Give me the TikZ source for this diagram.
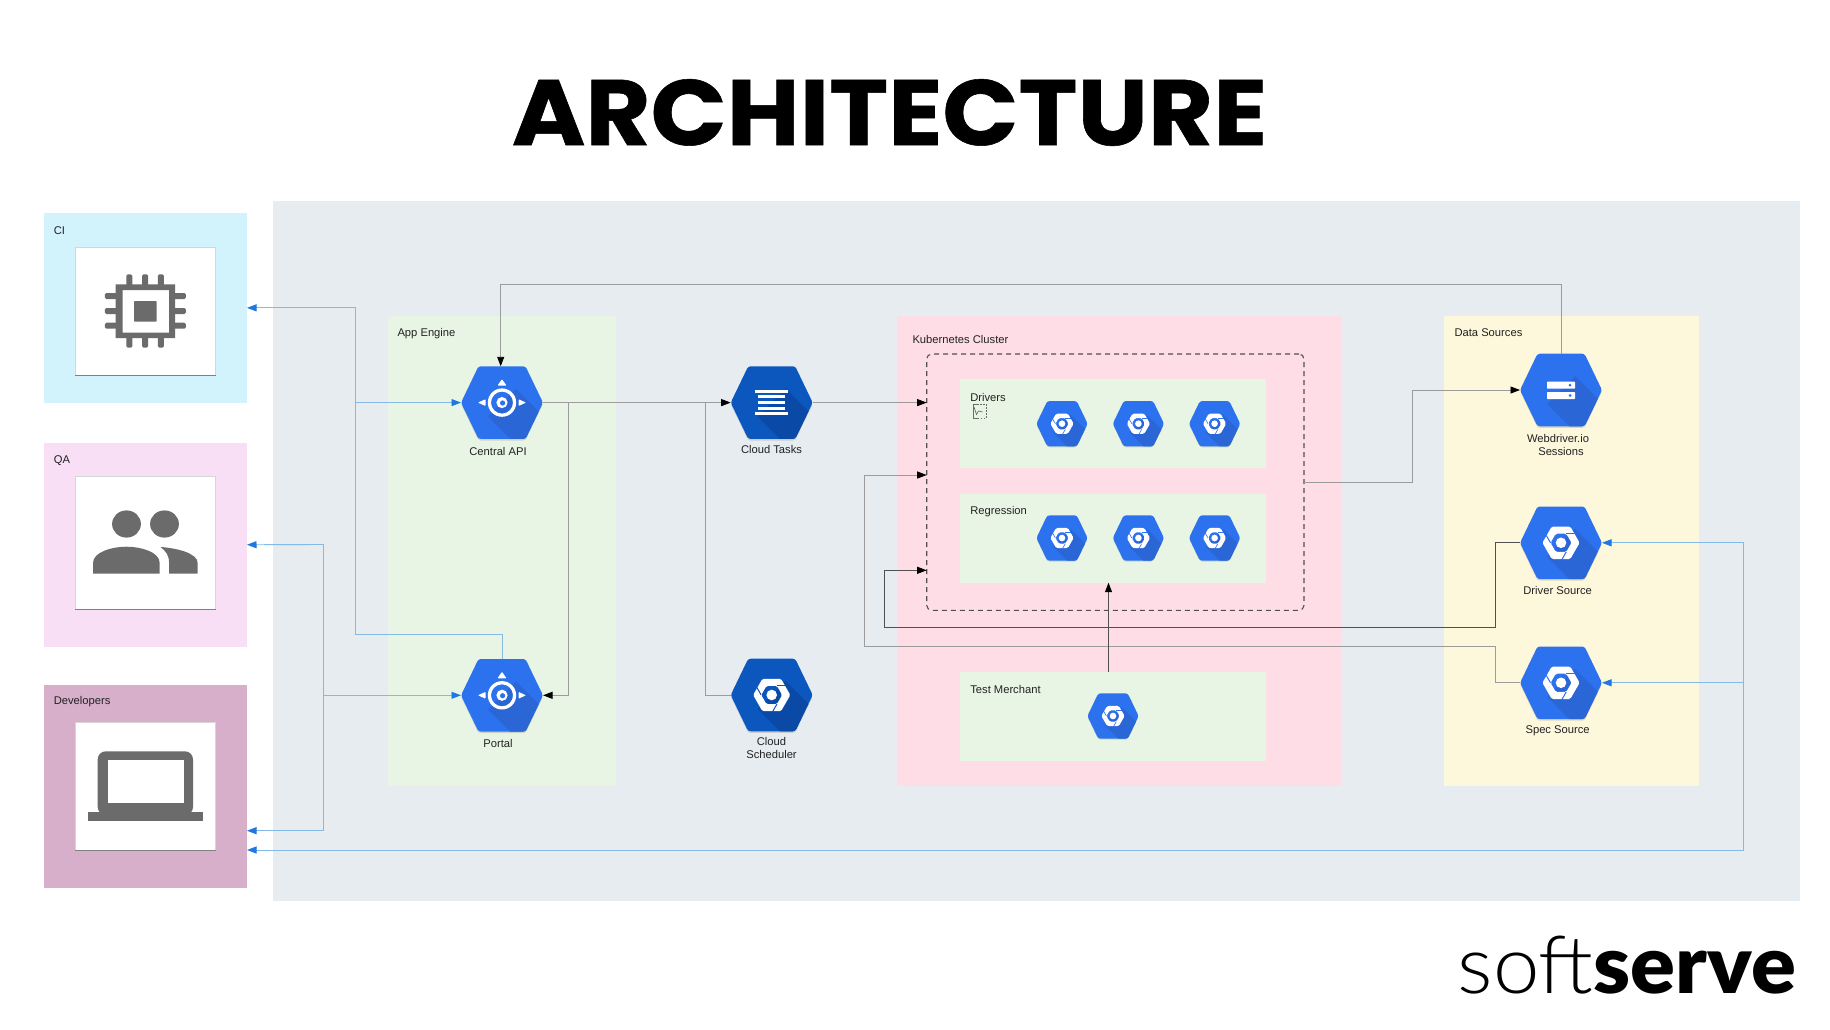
\documentclass[tikz,border=0pt]{standalone}
\usepackage{fontspec}
\setmainfont{Liberation Sans}
\newfontfamily\titlefont[FakeBold=0.6]{Poppins Bold}
\newfontfamily\softlight{Lato Light}
\newfontfamily\softblack{Lato Black}
\usetikzlibrary{arrows.meta,calc}
\definecolor{outergrey}{HTML}{E6ECF0}
\definecolor{cibg}{HTML}{D2F3FC}
\definecolor{qabg}{HTML}{F8DFF5}
\definecolor{devbg}{HTML}{D7AFCB}
\definecolor{greenbg}{HTML}{E9F5E4}
\definecolor{pinkbg}{HTML}{FFDDE7}
\definecolor{yellowbg}{HTML}{FDF7DC}
\definecolor{hexblue}{HTML}{2C72EE}
\definecolor{hexshade}{HTML}{2A66D6}
\definecolor{hexdark}{HTML}{0B57BD}
\definecolor{hexdarkshade}{HTML}{0A4AA6}
\definecolor{iconfill}{HTML}{6B6B6B}
\definecolor{linegrey}{HTML}{9C9C9C}
\definecolor{linedark}{HTML}{505050}
\definecolor{lineblue}{HTML}{86BAE6}
\definecolor{tipblue}{HTML}{1F78E0}
\definecolor{labeltext}{HTML}{222222}
\tikzset{
  x=1pt,y=-1pt,
  zonebox/.style={inner sep=0pt,outer sep=0pt,draw=none},
  cardbox/.style={inner sep=0pt,outer sep=0pt,fill=white,draw=black!16,line width=.5pt},
  hexanchor/.style={inner sep=0pt,outer sep=0pt,draw=none,rectangle},
  lbl/.style={inner sep=0pt,outer sep=0pt,text=labeltext,font=\fontsize{11.2}{13.3}\selectfont,align=center},
  zonelbl/.style={lbl,anchor=west},
  blueline/.style={draw=lineblue,line width=.9pt},
  bluearrow/.style={blueline,-{Triangle[length=9.5pt,width=7pt,color=tipblue,fill=tipblue]}},
  greyline/.style={draw=linegrey,line width=.9pt},
  greyarrow/.style={greyline,-{Triangle[length=9.5pt,width=7pt,color=black,fill=black]}},
  darkline/.style={draw=linedark,line width=.9pt},
  darkarrow/.style={darkline,-{Triangle[length=9.5pt,width=7pt,color=black,fill=black]}},
  icon/.style={fill=iconfill,draw=none},
}
% name, x1, y1, x2, y2, style
\newcommand{\zonebox}[6]{%
  \node[zonebox,#6,minimum width={(#4-#2)*1pt},minimum height={(#5-#3)*1pt}] (#1) at ({(#2+#4)/2},{(#3+#5)/2}) {};}
% name, x, y, scale, base, shade, glyph
\newcommand{\hexicon}[7]{%
  \node[hexanchor,minimum width={82*#4*1pt},minimum height={72.6*#4*1pt}] (#1) at (#2,#3) {};
  \begin{scope}[shift={(#1.center)},scale=#4]
    \fill[black,opacity=.13,rounded corners=2.5pt] (-41,1.6) -- (-23.5,-34.7) -- (23.5,-34.7) -- (41,1.6) -- (23.5,37.9) -- (-23.5,37.9) -- cycle;
    \fill[#5,rounded corners=2.5pt] (-41,0) -- (-23.5,-36.3) -- (23.5,-36.3) -- (41,0) -- (23.5,36.3) -- (-23.5,36.3) -- cycle;
    \begin{scope}
      \clip[rounded corners=2.5pt] (-41,0) -- (-23.5,-36.3) -- (23.5,-36.3) -- (41,0) -- (23.5,36.3) -- (-23.5,36.3) -- cycle;
      \fill[#6] (14,-14) -- (50,22) -- (50,50) -- (22,50) -- (-14,14) -- cycle;
    \end{scope}
    #7
  \end{scope}}
\newcommand{\computeglyph}[2]{%
  \fill[white,even odd rule,rounded corners=1.5pt] (-18.6,0) -- (-9.3,-16.2) -- (9.3,-16.2) -- (18.6,0) -- (9.3,16.2) -- (-9.3,16.2) -- cycle
     (-10.5,0) -- (-5.25,-9.1) -- (5.25,-9.1) -- (10.5,0) -- (5.25,9.1) -- (-5.25,9.1) -- cycle;
  \fill[white] (0,0) circle (5.3);
  \foreach \a in {60,180,300} {\draw[#1,line width=#2*1pt] (\a:10.5) -- ++({\a+60}:9.5);}
}
\newcommand{\appglyph}[1]{%
  \fill[white,even odd rule] (0,0) circle (14.2) (0,0) circle (11);
  \fill[white] (0,0) circle (5.6);
  \fill[#1] (0.6,0.4) circle (2.6);
  \fill[white,rounded corners=.8pt] (0,-23.5) -- (4.5,-17) -- (-4.5,-17) -- cycle;
  \fill[white,rounded corners=.8pt] (-24,0) -- (-16.5,-3.4) -- (-16.5,3.4) -- cycle;
  \fill[white,rounded corners=.8pt] (24,0) -- (16.5,-3.4) -- (16.5,3.4) -- cycle;
}
\begin{document}
\begin{tikzpicture}
\useasboundingbox (0,0) rectangle (1830,1030);
\fill[white] (0,0) rectangle (1830,1030);
% title and logo
\node[inner sep=0pt] (title) at (889.5,112.5) {\resizebox{755pt}{66pt}{\titlefont ARCHITECTURE}};
\node[inner sep=0pt,anchor=south west] (logo) at (1457.5,994) {\resizebox{338pt}{57.5pt}{{\softlight soft}{\softblack serve}}};
% backgrounds
\zonebox{outer}{272.8}{201.3}{1800.3}{900.5}{fill=outergrey}
\zonebox{ci}{43.5}{212.7}{247}{403}{fill=cibg}
\zonebox{qa}{43.5}{443}{247}{646.5}{fill=qabg}
\zonebox{dev}{43.5}{684.8}{247}{887.7}{fill=devbg}
\zonebox{appzone}{387.5}{315.7}{616}{786}{fill=greenbg}
\zonebox{kube}{896.9}{315.7}{1342}{785.7}{fill=pinkbg}
\zonebox{data}{1444}{315.7}{1699}{786}{fill=yellowbg}
\zonebox{drivers}{959.8}{379.3}{1266}{468.3}{fill=greenbg}
\zonebox{regression}{959.8}{494}{1266}{582.7}{fill=greenbg}
\zonebox{merchant}{959.8}{671.7}{1266}{760.7}{fill=greenbg}
\zonebox{pool}{926.7}{354}{1304}{610.3}{draw=linedark,line width=1.1pt,dash pattern=on 5pt off 4pt,rounded corners=5pt}
% cards
\zonebox{cicard}{75}{247.7}{215.5}{375.7}{cardbox}
\zonebox{qacard}{75}{476.7}{215.5}{609.3}{cardbox}
\zonebox{devcard}{75}{722.3}{215.5}{850.7}{cardbox}
\draw[black!50,line width=1pt] (cicard.south west) -- (cicard.south east);
\draw[black!50,line width=1pt] (qacard.south west) -- (qacard.south east);
\draw[black!50,line width=1pt] (devcard.south west) -- (devcard.south east);
% chip
\fill[icon,even odd rule] (115.5,284.3) rectangle (175,338) (122.6,290) rectangle (169.2,332.7);
\fill[icon,rounded corners=.8pt] (134,301) rectangle (156.6,321.7);
\foreach \px in {129.3,145.1,160.9} {\fill[icon,rounded corners=1.5pt] ({\px-3},274.3) rectangle ({\px+3},286); \fill[icon,rounded corners=1.5pt] ({\px-3},336) rectangle ({\px+3},347.7);}
\foreach \py in {296,311,325.7} {\fill[icon,rounded corners=1.5pt] (104.8,{\py-3}) rectangle (117,{\py+3}); \fill[icon,rounded corners=1.5pt] (173,{\py-3}) rectangle (185.8,{\py+3});}
% people
\fill[icon] (126.5,524) ellipse (14.4 and 13.6);
\fill[icon] (164.5,524) ellipse (14.4 and 13.6);
\fill[icon] (93,573.7) -- (93,563) .. controls (93,552) and (112,546.7) .. (126.5,546.7) .. controls (141,546.7) and (159.7,552) .. (159.7,563) -- (159.7,573.7) -- cycle;
\fill[icon] (160.5,547) .. controls (176,548) and (197.7,553) .. (197.7,563) -- (197.7,573.7) -- (169.2,573.7) -- (169.2,563) .. controls (169.2,556) and (166,551) .. (160.5,547) -- cycle;
% laptop
\fill[icon,even odd rule,rounded corners=8pt] (97.7,751.3) rectangle (193,815);
\fill[white] (107.6,760) rectangle (183.9,803.3);
\fill[icon] (88.2,811.7) rectangle (202.8,820.7);
% hexagons
\hexicon{api}{502}{402.6}{1}{hexblue}{hexshade}{\appglyph{hexblue}}
\hexicon{portal}{502}{695.3}{1}{hexblue}{hexshade}{\appglyph{hexblue}}
\hexicon{tasks}{771.7}{402.6}{1}{hexdark}{hexdarkshade}{%
  \fill[white] (-16.5,-12.6) rectangle (16.5,-9.4);
  \foreach \b in {-5.8,0,5.8} {\fill[white] (-13.5,{\b-1.5}) rectangle (13.5,{\b+1.5});}
  \fill[white] (-16.5,9.6) rectangle (16.5,12.8);}
\hexicon{scheduler}{771.7}{695}{1}{hexdark}{hexdarkshade}{\computeglyph{hexdark}{1}}
\hexicon{webdriver}{1561}{390}{1}{hexblue}{hexshade}{%
  \fill[white,rounded corners=.6pt] (-14,-8.3) rectangle (14,-1.3);
  \fill[white,rounded corners=.6pt] (-14,2) rectangle (14,9);
  \fill[hexblue] (9,-4.8) circle (1.5) (9,5.5) circle (1.5);}
\hexicon{driver}{1561}{542.8}{1}{hexblue}{hexshade}{\computeglyph{hexblue}{1}}
\hexicon{spec}{1561}{682.8}{1}{hexblue}{hexshade}{\computeglyph{hexblue}{1}}
\foreach \n/\cx in {da/1062,db/1138.4,dc/1214.6} {\hexicon{\n}{\cx}{423.7}{.625}{hexblue}{hexshade}{\computeglyph{hexblue}{.625}}}
\foreach \n/\cx in {ra/1062,rb/1138.4,rc/1214.6} {\hexicon{\n}{\cx}{538}{.625}{hexblue}{hexshade}{\computeglyph{hexblue}{.625}}}
\hexicon{tm}{1113}{716}{.625}{hexblue}{hexshade}{\computeglyph{hexblue}{.625}}
% small icon next to Drivers
\draw[iconfill,line width=.7pt] (979,404.8) -- (973,404.8) -- (973,418) -- (979,418);
\draw[iconfill,line width=.7pt,dash pattern=on 1.5pt off 1.5pt] (980,404.8) -- (986.4,404.8) -- (986.4,418) -- (980,418);
\draw[iconfill,line width=.7pt] (974,407) -- (976.5,414.5) -- (978.5,411) -- (982.5,412);
% labels
\node[zonelbl] (lci) at (53.8,230.5) {CI};
\node[zonelbl] (lqa) at (53.8,460.5) {QA};
\node[zonelbl] (ldev) at (53.8,702) {Developers};
\node[zonelbl] (lapp) at (397.5,333.5) {App Engine};
\node[zonelbl] (lkube) at (912.5,339) {Kubernetes Cluster};
\node[zonelbl] (ldata) at (1454.5,333) {Data Sources};
\node[zonelbl] (ldrv) at (970.3,397) {Drivers};
\node[zonelbl] (lreg) at (970.3,511.5) {Regression};
\node[zonelbl] (ltm) at (970.3,689) {Test Merchant};
\node[lbl] (lapi) at (498,451) {Central API};
\node[lbl] (lportal) at (498,743.5) {Portal};
\node[lbl] (ltasks) at (771.5,449) {Cloud Tasks};
\node[lbl] (lsched) at (771.5,748) {Cloud\\Scheduler};
\node[lbl] (lweb) at (1558,445) {Webdriver.io\\\hspace*{6pt}Sessions};
\node[lbl] (ldrvs) at (1557.6,590.7) {Driver Source};
\node[lbl] (lspec) at (1557.6,731.2) {Spec Source};
% free ends
\coordinate (busA) at (355.5,634.3);
\coordinate (busB) at (323.8,544.5);
\coordinate (busC) at (1743.5,542.8);
\coordinate (devA) at (247,830.7);
\coordinate (devB) at (247,850);
\coordinate (toprun) at (500.7,284.3);
\coordinate (branchA) at (568.6,402.6);
\coordinate (branchB) at (705.9,402.6);
\coordinate (retA) at (1495.4,646.7);
\coordinate (retB) at (864.7,646.7);
\coordinate (poolA) at (926.7,475);
\coordinate (retC) at (1495.4,627.3);
\coordinate (retD) at (884,627.3);
\coordinate (poolB) at (926.7,570.3);
\coordinate (mOut) at (1108.5,671.7);
\coordinate (webTurn) at (1412.2,390);
% blue connectors
\draw[bluearrow] (portal.north) |- (busA) -- (busA |- ci.east) -- (ci.east);
\draw[bluearrow] (busA |- api.west) -- (api.west);
\draw[bluearrow] (busB) -- (qa.east);
\draw[bluearrow] (busB) |- (devA);
\draw[bluearrow] (busB |- portal.west) -- (portal.west);
\draw[bluearrow] (busC) -- (driver.east);
\draw[bluearrow] (busC) |- (devB);
\draw[bluearrow] (busC |- spec.east) -- (spec.east);
% grey and dark connectors
\draw[greyarrow] (webdriver.north) |- (toprun) -- (toprun |- api.north);
\draw[greyarrow] (api.east) -- (tasks.west);
\draw[greyarrow] (branchA) |- (portal.east);
\draw[greyline] (branchB) |- (scheduler.west);
\draw[greyarrow] (tasks.east) -- (tasks.east -| pool.west);
\draw[greyarrow] (spec.west) -| (retA) -- (retB) |- (poolA);
\draw[darkarrow] (driver.west) -| (retC) -- (retD) |- (poolB);
\draw[darkarrow] (mOut) -- (regression.south -| mOut);
\draw[greyarrow] (pool.east) -| (webTurn) -- (webdriver.west);
\end{tikzpicture}
\end{document}
